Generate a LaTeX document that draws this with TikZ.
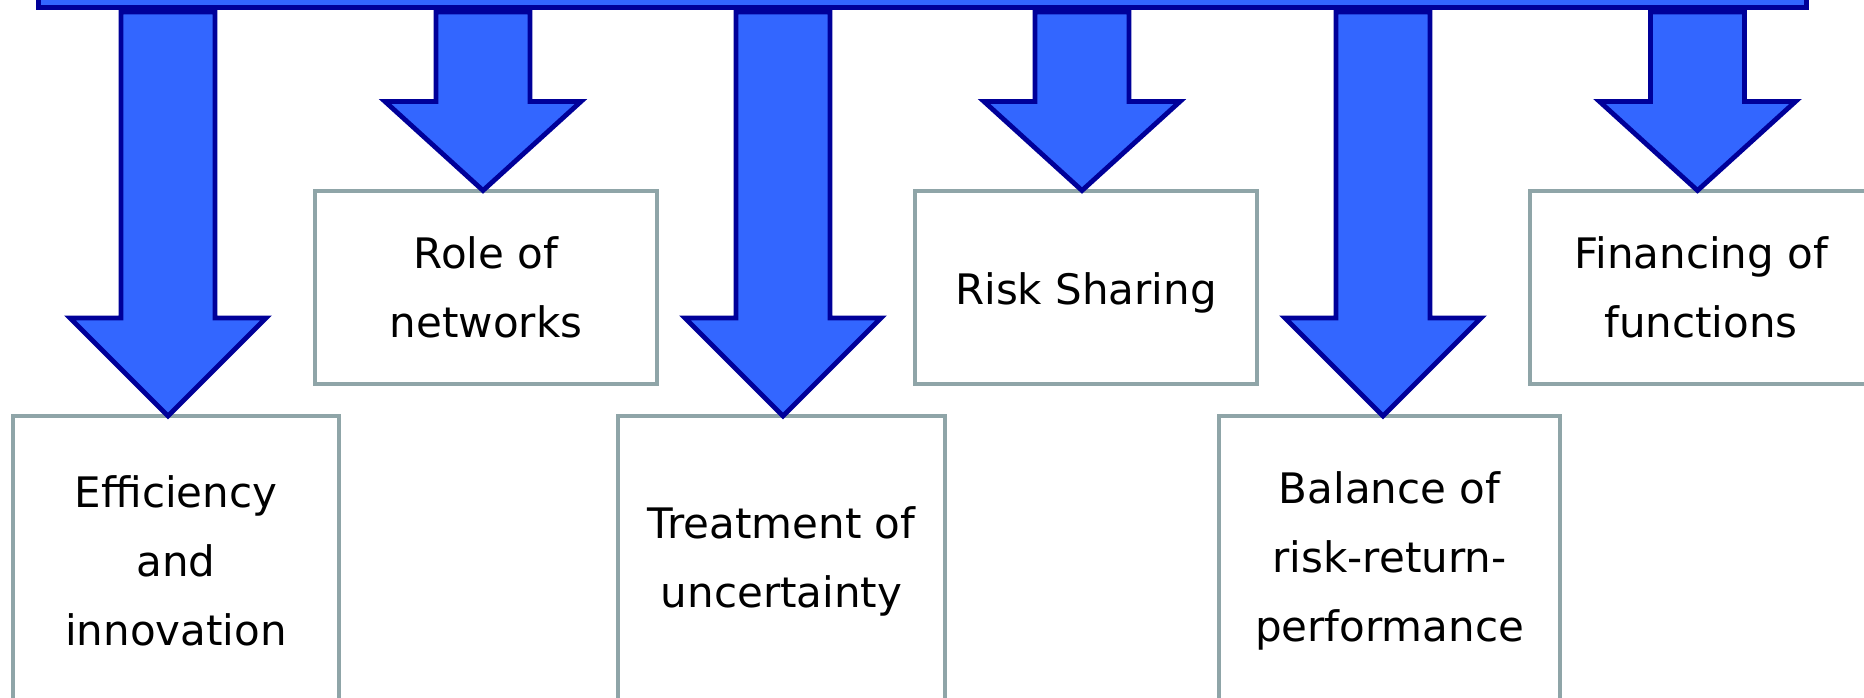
\documentclass[tikz,border=0pt]{standalone}
\usepackage{fontspec}
\setmainfont{DejaVu Sans}
\usetikzlibrary{calc}
\definecolor{arrowfill}{HTML}{3366FF}
\definecolor{arrowline}{HTML}{000099}
\definecolor{boxline}{HTML}{8FA5A8}
\newcommand\blockarr[3]{%
  \draw[blockarrow] let \p1=($(#1.north)+(#2,0)$), \p2=(bar.south) in
    (\x1,\y1) -- (\x1+98pt,\y1+#3pt) -- (\x1+47pt,\y1+#3pt) -- (\x1+47pt,\y2-4.5pt)
    -- (\x1-47pt,\y2-4.5pt) -- (\x1-47pt,\y1+#3pt) -- (\x1-98pt,\y1+#3pt) -- cycle;}
\begin{document}
\begin{tikzpicture}[x=1pt,y=-1pt,
  topic/.style={draw=boxline, line width=4pt, fill=white, rectangle, outer sep=0pt,
    inner sep=0pt, align=center, font=\fontsize{42}{69}\selectfont, text=black, anchor=north},
  topbox/.style={topic, minimum width=342pt, minimum height=193pt},
  lowbox/.style={topic, minimum height=290pt},
  blockarrow/.style={draw=arrowline, fill=arrowfill, line width=4.8pt, line join=miter},
  barstyle/.style={draw=arrowline, fill=arrowfill, line width=4.8pt, rectangle,
    inner sep=0pt, outer sep=0pt, minimum width=1768pt, minimum height=60pt, anchor=south west}]
\useasboundingbox (0,0) rectangle (1864,698);
\clip (0,0) rectangle (1864,698);
\fill[white] (0,0) rectangle (1864,698);
\node[barstyle] (bar) at (38.6,7.5) {};
% upper row
\node[topbox] (r) at (486,190.5) {Role of\\networks};
\node[topbox, text height=44pt, text depth=10pt] (s) at (1086,190.5) {Risk Sharing};
\node[topbox] (f) at (1701,190.5) {Financing of\\functions};
% lower row
\node[lowbox, minimum width=326pt] (e) at (176,416) {Efficiency\\and\\innovation};
\node[lowbox, minimum width=327pt] (t) at (781.5,416) {Treatment of\\uncertainty};
\node[lowbox, minimum width=341pt] (b) at (1389.5,416) {Balance of\\risk-return-\\performance};
% arrows
\blockarr{e}{-8}{98}
\blockarr{r}{-3}{89}
\blockarr{t}{1.5}{98}
\blockarr{s}{-4}{89}
\blockarr{b}{-6.5}{98}
\blockarr{f}{-3.5}{89}
\end{tikzpicture}
\end{document}
